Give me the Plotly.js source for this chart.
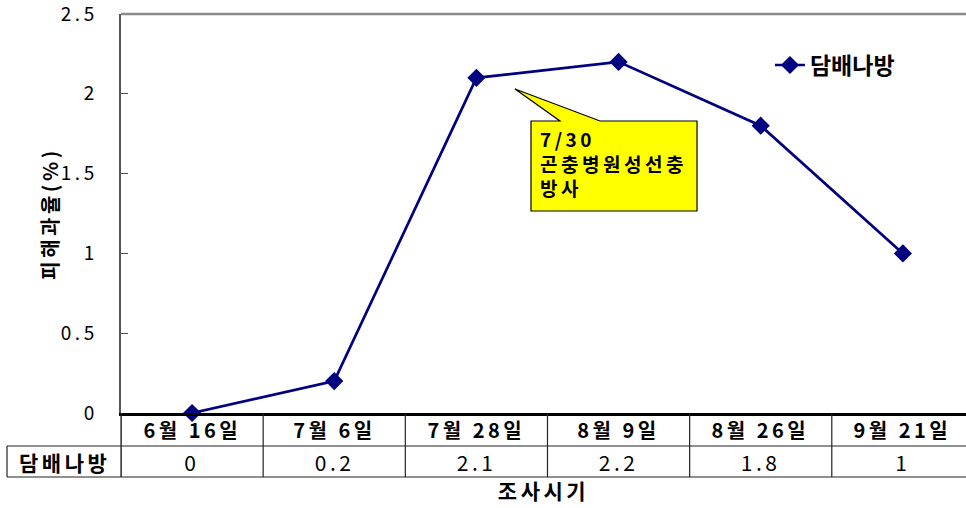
<!DOCTYPE html>
<html>
<head>
<meta charset="utf-8">
<script src="https://cdn.plot.ly/plotly-3.0.1.min.js"></script>
<style>
  html, body { margin: 0; padding: 0; background: #fff; overflow: hidden; }
  #chart { width: 966px; height: 508px; }
  #chart svg text:not(.legendtext) { letter-spacing: 3.5px; }
</style>
</head>
<body>
<div id="chart"></div>
<script>
// Survey dates and tobacco budworm damage rate (%)
const surveyDates = ['6월 16일', '7월 6일', '7월 28일', '8월 9일', '8월 26일', '9월 21일'];
const damageRate = [0, 0.2, 2.1, 2.2, 1.8, 1];
const seriesName = '담배나방';
const yTickValues = [0, 0.5, 1, 1.5, 2, 2.5];
const yTickLabels = ['0', '0.5', '1', '1.5', '2', '2.5'];
const calloutText = '7/30<br>곤충병원성선충<br>방사';

const KFONT = '"Noto Sans CJK KR", "Noto Sans", sans-serif';
const navy = '#000080';

// data-table geometry (paper units below the plot)
const rowHeaderBottom = -0.0827;
const rowValueBottom = -0.1604;
const rowHeaderMid = -0.0426;
const rowValueMid = -0.1228;
const labelCellLeft = -0.1349;

const shapes = [];
const annotations = [];

// top border of the plot
shapes.push({type: 'line', xref: 'paper', yref: 'paper', x0: 0, x1: 1, y0: 1, y1: 1,
  line: {color: '#8a8a8a', width: 2.5}});

// table grid lines
for (let i = 0; i <= surveyDates.length; i++) {
  shapes.push({type: 'line', xref: 'x', yref: 'paper', x0: i - 0.5, x1: i - 0.5,
    y0: 0, y1: rowValueBottom, line: {color: '#222', width: 1.2}});
}
shapes.push({type: 'line', xref: 'paper', yref: 'paper', x0: labelCellLeft, x1: 1,
  y0: rowHeaderBottom, y1: rowHeaderBottom, line: {color: '#222', width: 1.2}});
shapes.push({type: 'line', xref: 'paper', yref: 'paper', x0: labelCellLeft, x1: 1,
  y0: rowValueBottom, y1: rowValueBottom, line: {color: '#222', width: 1.2}});
shapes.push({type: 'line', xref: 'paper', yref: 'paper', x0: labelCellLeft, x1: labelCellLeft,
  y0: rowHeaderBottom, y1: rowValueBottom, line: {color: '#222', width: 1.2}});
shapes.push({type: 'line', xref: 'paper', yref: 'paper', x0: 0, x1: 0,
  y0: 0, y1: rowValueBottom, line: {color: '#222', width: 1.2}});

// table text: dates, values, row label
surveyDates.forEach((d, i) => {
  annotations.push({xref: 'x', yref: 'paper', x: d, y: rowHeaderMid, text: d,
    showarrow: false, xanchor: 'center', yanchor: 'middle',
    font: {family: KFONT, size: 20, color: '#000', weight: 'bold'}});
  annotations.push({xref: 'x', yref: 'paper', x: d, y: rowValueMid, text: String(damageRate[i]),
    showarrow: false, xanchor: 'center', yanchor: 'middle',
    font: {family: KFONT, size: 21, color: '#000'}});
});
annotations.push({xref: 'paper', yref: 'paper', x: (labelCellLeft) / 2, y: rowValueMid,
  text: seriesName, showarrow: false, xanchor: 'center', yanchor: 'middle',
  font: {family: KFONT, size: 21, color: '#000', weight: 'bold'}});

// callout box with pointer
const cb = {l: 0.4852, r: 0.6817, t: 0.7318, b: 0.5063, w1: 0.5195, w2: 0.5669, tx: 0.4663, ty: 0.8120};
shapes.push({type: 'path', xref: 'paper', yref: 'paper',
  path: `M${cb.l},${cb.t} L${cb.w1},${cb.t} L${cb.tx},${cb.ty} L${cb.w2},${cb.t} L${cb.r},${cb.t} L${cb.r},${cb.b} L${cb.l},${cb.b} Z`,
  fillcolor: '#ffff00', line: {color: '#000', width: 1.2}});
annotations.push({xref: 'paper', yref: 'paper', x: 0.4935, y: 0.7280, text: calloutText,
  showarrow: false, xanchor: 'left', yanchor: 'top', align: 'left',
  font: {family: KFONT, size: 19, color: '#000', weight: 'bold'}});

const trace = {
  type: 'scatter', mode: 'lines+markers', name: seriesName,
  x: surveyDates, y: damageRate,
  line: {color: navy, width: 2.7},
  marker: {symbol: 'diamond', size: 14, color: navy},
  cliponaxis: false
};

const layout = {
  width: 966, height: 508,
  margin: {l: 121, r: 0, t: 14, b: 95},
  paper_bgcolor: '#fff', plot_bgcolor: '#fff',
  showlegend: true,
  legend: {x: 0.768, y: 0.872, xanchor: 'left', yanchor: 'middle', bgcolor: 'rgba(0,0,0,0)',
    font: {family: KFONT, size: 23, color: '#000', weight: 'bold'}},
  xaxis: {
    type: 'category', categoryorder: 'array', categoryarray: surveyDates,
    range: [-0.5, 5.444], showgrid: false, zeroline: false,
    showline: true, linecolor: '#000', linewidth: 2.5,
    ticks: '', showticklabels: false, fixedrange: true,
    title: {text: '조사시기', standoff: 70, font: {family: KFONT, size: 21, color: '#000', weight: 'bold'}}
  },
  yaxis: {
    range: [0, 2.5], tickmode: 'array', tickvals: yTickValues, ticktext: yTickLabels,
    showgrid: false, zeroline: false, showline: true, linecolor: '#555', linewidth: 2.5,
    ticks: 'inside', ticklen: 7, tickcolor: '#555', tickwidth: 1.2,
    ticklabelstandoff: 17, ticklabeloverflow: 'allow',
    tickfont: {family: KFONT, size: 19, color: '#000'},
    title: {text: '피해과율(%)', standoff: 8, font: {family: KFONT, size: 20, color: '#000', weight: 'bold'}}
  },
  shapes: shapes,
  annotations: annotations
};

Plotly.newPlot('chart', [trace], layout, {displayModeBar: false, staticPlot: true});
</script>
</body>
</html>
